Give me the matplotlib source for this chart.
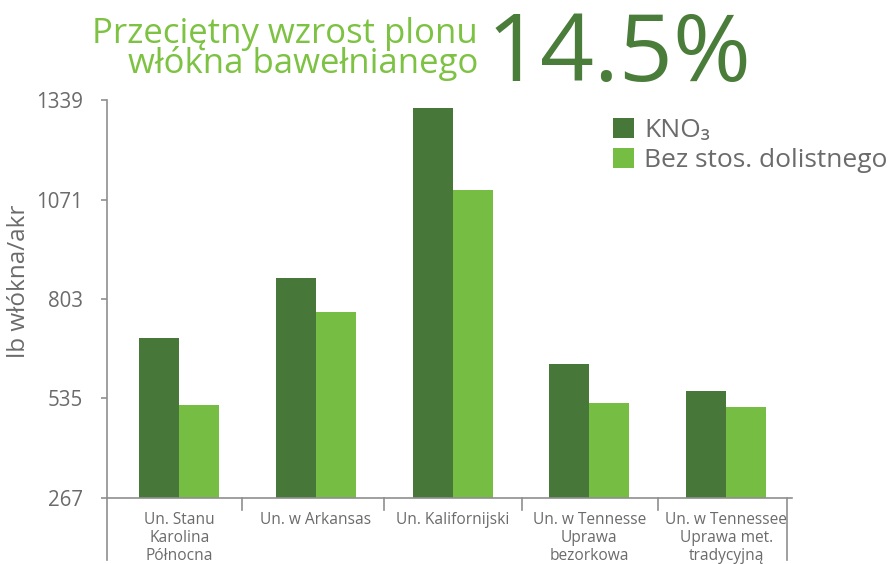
import matplotlib.pyplot as plt
import numpy as np

# cotton lint yield, lb/acre
categories = [
    "Un. Stanu\nKarolina\nPółnocna",
    "Un. w Arkansas",
    "Un. Kalifornijski",
    "Un. w Tennesse\nUprawa\nbezorkowa",
    "Un. w Tennessee\nUprawa met.\ntradycyjną",
]
kno3 = [697, 860, 1317, 628, 554]
no_foliar = [518, 767, 1097, 523, 513]
yticks = [267, 535, 803, 1071, 1339]

DARK = "#48773a"
LIGHT = "#76be43"
GREY = "#6b6b6b"
AXIS = "#8f8f8f"
FONT = ["Open Sans", "DejaVu Sans"]

plt.rcParams["font.family"] = FONT

fig = plt.figure(figsize=(8.95, 5.64), dpi=100)
ax = fig.add_axes([107 / 895, 1 - 497.7 / 564, (792 - 107) / 895, 397.4 / 564])

x = np.arange(len(categories))
w = 0.2926
ax.bar(x - w / 2, np.array(kno3) - yticks[0], w, bottom=yticks[0], color=DARK,
       label="KNO₃")
ax.bar(x + w / 2, np.array(no_foliar) - yticks[0], w, bottom=yticks[0], color=LIGHT,
       label="Bez stos. dolistnego")

ax.set_xlim(-0.529, 4.482)
ax.set_ylim(yticks[0], yticks[-1])
ax.set_yticks(yticks)
ax.set_yticklabels([str(v) for v in yticks])
ax.set_xticks(x)
ax.set_xticklabels(categories, linespacing=1.2, fontsize=11.2, color=GREY)

for s in ("top", "right"):
    ax.spines[s].set_visible(False)
for s in ("left", "bottom"):
    ax.spines[s].set_color(AXIS)
    ax.spines[s].set_linewidth(1.2)
ax.tick_params(axis="y", length=4.5, width=1.2, color=AXIS, pad=13,
               labelsize=14.8, labelcolor=GREY)
ax.tick_params(axis="x", length=0, pad=10)

# group separators below the axis
tr = ax.get_xaxis_transform()
for sx in [0.46, 1.5, 2.51, 3.5]:
    ax.plot([sx, sx], [0, -0.031], transform=tr, color=AXIS, lw=1.2, clip_on=False)
for sx in [-0.529, 4.443]:
    ax.plot([sx, sx], [0, -0.157], transform=tr, color=AXIS, lw=1.2, clip_on=False)

fig.text(19 / 895, 1 - 281 / 564, "lb włókna/akr", rotation=90, ha="center",
         va="center", fontsize=17.5, color=GREY)

fig.text(478 / 895, 1 - 73 / 564, "Przeciętny wzrost plonu\nwłókna bawełnianego",
         ha="right", va="baseline", multialignment="right", linespacing=0.82,
         fontsize=25, color="#7dc242")
fig.text(487 / 895, 1 - 81 / 564, "14.5%", ha="left", va="baseline",
         fontsize=68, color="#4a7c3a")

ax.legend(loc="upper left", bbox_to_anchor=(613 / 895, 1 - 118 / 564),
          bbox_transform=fig.transFigure, frameon=False, fontsize=19,
          labelcolor=GREY, handlelength=0.78, handleheight=0.78,
          handletextpad=0.4, labelspacing=0.2, borderpad=0, borderaxespad=0)

fig.savefig("out.png", dpi=100)
